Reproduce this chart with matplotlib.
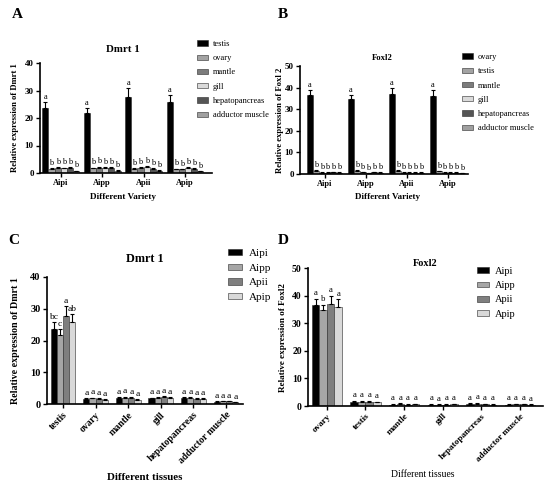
import matplotlib
matplotlib.use('Agg')
import matplotlib.pyplot as plt
import numpy as np

plt.rcParams['font.family'] = ['Liberation Serif', 'DejaVu Serif']
plt.rcParams['axes.linewidth'] = 1.2

# ---------------- data ----------------
varieties = ['Aipi', 'Aipp', 'Apii', 'Apip']

dmrt1_tissues = ['testis', 'ovary', 'mantle', 'gill', 'hepatopancreas', 'adductor muscle']
dmrt1_mean = [
    [23.5, 21.8, 27.8, 25.8],
    [1.6, 1.8, 1.6, 1.4],
    [1.9, 1.9, 1.9, 1.3],
    [1.8, 1.9, 2.1, 1.9],
    [1.9, 1.9, 1.5, 1.6],
    [0.7, 0.8, 0.8, 0.6],
]
dmrt1_err = [
    [2.3, 1.8, 3.0, 2.5],
    [0.2, 0.2, 0.2, 0.2],
    [0.2, 0.4, 0.2, 0.2],
    [0.2, 0.2, 0.4, 0.2],
    [0.2, 0.3, 0.3, 0.2],
    [0.1, 0.2, 0.2, 0.1],
]
dmrt1_letters_A = [['a'] * 4] + [['b'] * 4 for _ in range(5)]
dmrt1_letters_C = [['bc', 'c', 'a', 'ab']] + [['a'] * 4 for _ in range(5)]

foxl2_tissues = ['ovary', 'testis', 'mantle', 'gill', 'hepatopancreas', 'adductor muscle']
foxl2_mean = [
    [36.5, 34.8, 37.0, 36.0],
    [1.6, 1.6, 1.6, 1.3],
    [0.5, 0.7, 0.5, 0.6],
    [0.5, 0.4, 0.5, 0.6],
    [0.8, 0.8, 0.6, 0.5],
    [0.5, 0.6, 0.6, 0.4],
]
foxl2_err = [
    [2.3, 1.8, 3.0, 2.7],
    [0.2, 0.2, 0.2, 0.2],
    [0.2, 0.3, 0.2, 0.2],
    [0.2, 0.2, 0.2, 0.2],
    [0.2, 0.3, 0.2, 0.2],
    [0.2, 0.2, 0.2, 0.2],
]
foxl2_letters_B = [['a'] * 4] + [['b'] * 4 for _ in range(5)]
foxl2_letters_D = [['a', 'b', 'a', 'a']] + [['a'] * 4 for _ in range(5)]

tissue_colors = ['#000000', '#a3a3a3', '#7c7c7c', '#dadada', '#555555', '#a0a0a0']
variety_colors = ['#000000', '#a6a6a6', '#7f7f7f', '#d9d9d9']


def grouped(ax, means, errs, letters, colors, width, letter_fs, pad):
    means = np.asarray(means, dtype=float)
    errs = np.asarray(errs, dtype=float)
    n_series, n_groups = means.shape
    x = np.arange(n_groups)
    handles = []
    for i in range(n_series):
        pos = x + (i - (n_series - 1) / 2) * width
        h = ax.bar(pos, means[i], width, color=colors[i], edgecolor='#2a2a2a',
                   linewidth=0.4, zorder=2)
        ax.errorbar(pos, means[i], yerr=[np.zeros(n_groups), errs[i]], fmt='none',
                    ecolor='black', elinewidth=0.8, capsize=1.5, capthick=0.8, zorder=3)
        for j in range(n_groups):
            ax.text(pos[j], means[i][j] + errs[i][j] + pad, letters[i][j],
                    ha='center', va='bottom', fontsize=letter_fs, zorder=4)
        handles.append(h)
    ax.set_xticks(x)
    return handles


def style(ax, tick_fs_x, tick_fs_y):
    for s in ['top', 'right']:
        ax.spines[s].set_visible(False)
    ax.tick_params(axis='both', direction='out', length=3, width=1.0, pad=1.5)
    for lab in ax.get_yticklabels():
        lab.set_fontweight('bold')
        lab.set_fontsize(tick_fs_y)
    for lab in ax.get_xticklabels():
        lab.set_fontweight('bold')
        lab.set_fontsize(tick_fs_x)


W, H = 550, 499
fig = plt.figure(figsize=(W / 100, H / 100), dpi=100)


def frac(l, r, top, bottom):
    return [l / W, 1 - bottom / H, (r - l) / W, (bottom - top) / H]


# ---------------- Panel A ----------------
axA = fig.add_axes(frac(40, 212, 63, 173))
hA = grouped(axA, [np.array(m) for m in dmrt1_mean], dmrt1_err, dmrt1_letters_A,
             tissue_colors, 0.148, 6, 0.5)
axA.set_xlim(-0.5, 3.65)
axA.set_ylim(0, 40)
axA.set_yticks([0, 10, 20, 30, 40])
axA.set_xticklabels(varieties)
style(axA, 6, 6.5)
axA.set_title('Dmrt 1', fontsize=7.8, fontweight='bold', x=0.48, pad=8)
axA.set_ylabel('Relative expression of Dmrt 1', fontsize=6.2, fontweight='bold')
axA.yaxis.set_label_coords(-0.12, 0.5)
axA.set_xlabel('Different Variety', fontsize=6.6, fontweight='bold')
axA.xaxis.set_label_coords(0.48, -0.18)
fig.legend(hA, dmrt1_tissues, loc='upper left', bbox_to_anchor=(197 / W, 1 - 40 / H),
           frameon=False, fontsize=6, handlelength=1.3, handleheight=0.6,
           handletextpad=0.6, labelspacing=0.75, borderpad=0, borderaxespad=0)

# ---------------- Panel B ----------------
axB = fig.add_axes(frac(300, 468, 66, 174))
hB = grouped(axB, foxl2_mean, foxl2_err, foxl2_letters_B, tissue_colors, 0.144, 6, 0.5)
axB.set_xlim(-0.6, 3.5)
axB.set_ylim(0, 50)
axB.set_yticks([0, 10, 20, 30, 40, 50])
axB.set_xticklabels(varieties)
style(axB, 6, 6.5)
axB.set_title('Foxl2', fontsize=6.2, fontweight='bold', x=0.49, pad=4)
axB.set_ylabel('Relative expression of Foxl 2', fontsize=6.2, fontweight='bold')
axB.yaxis.set_label_coords(-0.095, 0.5)
axB.set_xlabel('Different Variety', fontsize=6.5, fontweight='bold')
axB.xaxis.set_label_coords(0.52, -0.176)
fig.legend(hB, foxl2_tissues, loc='upper left', bbox_to_anchor=(462 / W, 1 - 53 / H),
           frameon=False, fontsize=6, handlelength=1.3, handleheight=0.6,
           handletextpad=0.6, labelspacing=0.75, borderpad=0, borderaxespad=0)

# ---------------- Panel C ----------------
axC = fig.add_axes(frac(47, 243, 277, 404))
dm = np.asarray(dmrt1_mean).T
de = np.asarray(dmrt1_err).T
lc = [list(r) for r in zip(*dmrt1_letters_C)]
hC = grouped(axC, dm, de, lc, variety_colors, 0.19, 6.8, 0.4)
axC.set_xlim(-0.49, 5.52)
axC.set_ylim(0, 40)
axC.set_yticks([0, 10, 20, 30, 40])
axC.set_xticklabels(dmrt1_tissues, rotation=45, ha='right', rotation_mode='anchor')
style(axC, 7, 7.5)
axC.set_title('Dmrt 1', fontsize=8.8, fontweight='bold', x=0.5, pad=11)
axC.set_ylabel('Relative expression of Dmrt 1', fontsize=7.2, fontweight='bold')
axC.yaxis.set_label_coords(-0.14, 0.5)
axC.set_xlabel('Different tissues', fontsize=7.8, fontweight='bold')
axC.xaxis.set_label_coords(0.5, -0.543)
fig.legend(hC, varieties, loc='upper left', bbox_to_anchor=(228 / W, 1 - 249 / H),
           frameon=False, fontsize=8, handlelength=1.25, handleheight=0.5,
           handletextpad=0.6, labelspacing=0.5, borderpad=0, borderaxespad=0)

# ---------------- Panel D ----------------
axD = fig.add_axes(frac(308, 543, 268, 406))
fm = np.asarray(foxl2_mean).T
fe = np.asarray(foxl2_err).T
ld = [list(r) for r in zip(*foxl2_letters_D)]
hD = grouped(axD, fm, fe, ld, variety_colors, 0.195, 6.3, 0.6)
axD.set_xlim(-0.49, 5.6)
axD.set_ylim(0, 50)
axD.set_yticks([0, 10, 20, 30, 40, 50])
axD.set_xticklabels(foxl2_tissues, rotation=45, ha='right', rotation_mode='anchor')
style(axD, 6.6, 7)
axD.set_title('Foxl2', fontsize=7.5, fontweight='bold', x=0.5, pad=1.5)
axD.set_ylabel('Relative expression of Foxl2', fontsize=6.6, fontweight='bold')
axD.yaxis.set_label_coords(-0.09, 0.5)
axD.set_xlabel('Different tissues', fontsize=6.9)
axD.xaxis.set_label_coords(0.49, -0.464)
fig.legend(hD, varieties, loc='upper left', bbox_to_anchor=(477 / W, 1 - 267 / H),
           frameon=False, fontsize=7.5, handlelength=1.15, handleheight=0.5,
           handletextpad=0.6, labelspacing=0.5, borderpad=0, borderaxespad=0)

# ---------------- panel letters ----------------
for lab, (px, py) in zip('ABCD', [(17, 15), (283, 15), (14, 240), (283, 240)]):
    fig.text(px / W, 1 - py / H, lab, fontsize=11, fontweight='bold',
             ha='center', va='center')

fig.savefig('out.png', dpi=100)
